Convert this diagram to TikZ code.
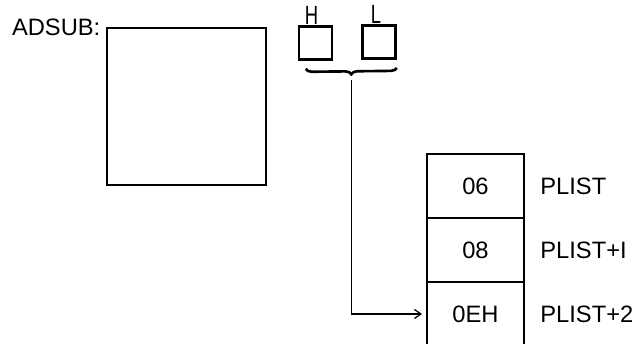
\documentclass[tikz,border=0pt]{standalone}
\usepackage{fontspec}
\setmainfont{Liberation Sans}
\usetikzlibrary{positioning, decorations.pathreplacing, arrows.meta}

\begin{document}
\begin{tikzpicture}[>={Straight Barb[length=1.3mm,width=1.8mm]}, x=0.02cm, y=-0.02cm,
    font=\fontsize{13.5}{15}\selectfont,
    memcell/.style={draw, line width=1.5pt, minimum width=1.94cm, minimum height=1.28cm, inner sep=0pt, outer sep=0pt},
    regbox/.style={draw, line width=1.5pt, minimum width=0.66cm, minimum height=0.66cm, inner sep=0pt},
    reglabel/.style={inner sep=0pt, font=\fontsize{15}{15}\selectfont}]
  \useasboundingbox (0,0) rectangle (637,343);
  % subroutine body
  \node[draw, line width=1.5pt, minimum width=3.18cm, minimum height=3.14cm] (code) at (186.5,106.5) {};
  \node[anchor=base east, inner sep=0pt] (adsub) at ([shift={(-5,9)}]code.north west) {ADSUB:};
  % register pair
  \node[regbox] (hreg) at (315.5,43) {};
  \node[regbox] (lreg) at (379,42) {};
  \node[reglabel, anchor=south] (hlab) at ([shift={(-4,0)}]hreg.north) {\scalebox{0.7}[1]{H}};
  \node[reglabel, anchor=south] (llab) at ([shift={(-3,0)}]lreg.north) {\scalebox{0.7}[1]{L}};
  \draw[line width=1.5pt, decorate, decoration={brace, amplitude=0.12cm}]
    ([shift={(0,8)}]lreg.south east) -- ([shift={(8,8)}]hreg.south west);
  \coordinate (brtip) at (351.5,80);
  % parameter list
  \node[memcell] (c06) at (475.5,186) {06};
  \node[memcell, below=0pt of c06] (c08) {08};
  \node[memcell, below=0pt of c08] (c0eh) {0EH};
  \node[right=0.32cm of c06.east, anchor=west, inner sep=0pt] (p0) {PLIST};
  \node[right=0.32cm of c08.east, anchor=west, inner sep=0pt] (p1) {PLIST+I};
  \node[right=0.32cm of c0eh.east, anchor=west, inner sep=0pt] (p2) {PLIST+2};
  \draw[->, line width=0.7pt, shorten >=0.1cm] (brtip) |- (c0eh.west);
\end{tikzpicture}
\end{document}
